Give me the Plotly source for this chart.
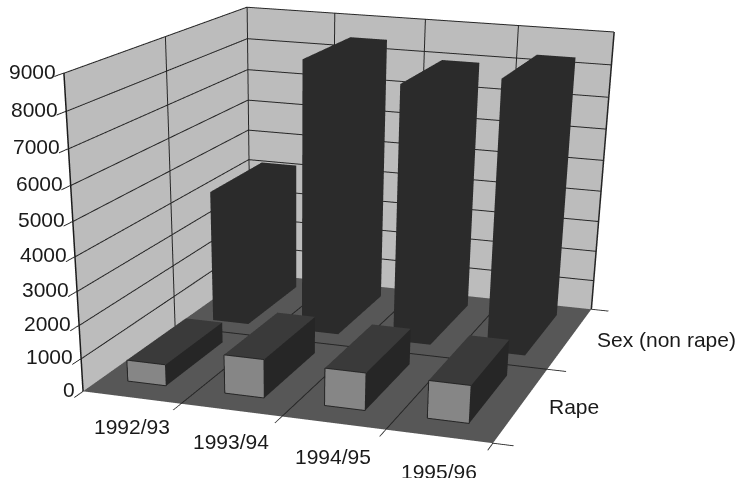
import plotly.graph_objects as go

# Recorded offences per year, one series per row of the depth axis
years = ["1992/93", "1993/94", "1994/95", "1995/96"]
series = ["Rape", "Sex (non rape)"]
rape_values = [650, 1170, 1130, 1130]
sex_values = [4190, 8450, 7950, 8320]
z_ticks = [0, 1000, 2000, 3000, 4000, 5000, 6000, 7000, 8000, 9000]

WIDTH, HEIGHT = 742, 1500
WALL, FLOOR, INK = "#bcbcbc", "#575757", "#262626"
FONT = dict(family="Liberation Sans, Arial", size=21, color="#1a1a1a")

RAPE_X = (0.27, 0.67)
RAPE_Y = (0.195, 0.85)
SEX_X = (0.29, 0.69)
SEX_Y = (1.16, 1.84)

# triangles of a box: bottom, top, front, right, back, left
TRI_I = [0, 0, 4, 4, 0, 0, 1, 1, 2, 2, 3, 3]
TRI_J = [1, 2, 5, 6, 1, 5, 2, 6, 3, 7, 0, 4]
TRI_K = [2, 3, 6, 7, 5, 4, 6, 5, 7, 6, 4, 7]


def bar(pos, span, depth, value, front, side, top):
    x0, x1 = pos + span[0], pos + span[1]
    y0, y1 = depth
    colours = [top] * 4 + [front] * 2 + [side] * 6
    return go.Mesh3d(
        x=[x0, x1, x1, x0, x0, x1, x1, x0],
        y=[y0, y0, y1, y1, y0, y0, y1, y1],
        z=[0, 0, 0, 0, value, value, value, value],
        i=TRI_I, j=TRI_J, k=TRI_K, facecolor=colours, flatshading=True,
        lighting=dict(ambient=1, diffuse=0, specular=0, fresnel=0),
        hoverinfo="skip",
    )


def lines(segments, width, colour=INK):
    xs, ys, zs = [], [], []
    for start, end in segments:
        xs += [start[0], end[0], None]
        ys += [start[1], end[1], None]
        zs += [start[2], end[2], None]
    return go.Scatter3d(x=xs, y=ys, z=zs, mode="lines",
                        line=dict(color=colour, width=width), hoverinfo="skip")


n = len(years)
d = len(series)
top = z_ticks[-1]
eps = 0.004

grid = []
for v in z_ticks[1:]:
    grid.append(((eps, 0, v), (eps, d, v)))
    grid.append(((0, d - eps, v), (n, d - eps, v)))
for y in range(1, d + 1):
    grid.append(((eps, y, 0), (eps, y, top)))
for x in range(1, n + 1):
    grid.append(((x, d - eps, 0), (x, d - eps, top)))
for x in range(1, n):
    grid.append(((x, 0, eps * 20), (x, d, eps * 20)))
grid.append(((0, 1, eps * 20), (n, 1, eps * 20)))

edges = [((0, 0, 0), (0, 0, top)), ((n, d, 0), (n, d, top))]

outlines = []
for i, v in enumerate(rape_values):
    x0, x1 = i + RAPE_X[0], i + RAPE_X[1]
    y = RAPE_Y[0] - eps
    outlines += [((x0, y, 0), (x1, y, 0)), ((x1, y, 0), (x1, y, v)),
                 ((x1, y, v), (x0, y, v)), ((x0, y, v), (x0, y, 0))]

traces = [lines(grid, 2), lines(edges, 3, "#1c1c1c")]
for i, v in enumerate(sex_values):
    traces.append(bar(i, SEX_X, SEX_Y, v, "#2b2b2b", "#2b2b2b", "#2b2b2b"))
for i, v in enumerate(rape_values):
    traces.append(bar(i, RAPE_X, RAPE_Y, v, "#868686", "#262626", "#3a3a3a"))
traces.append(lines(outlines, 2))

fig = go.Figure(traces)

axis = dict(showbackground=True, showgrid=False, zeroline=False, title="",
            showspikes=False, showline=False, ticks="outside",
            tickcolor=INK, ticklen=16, tickwidth=2, showticklabels=False)

labels = []
for i, t in enumerate(years):
    labels.append(dict(x=i + 0.5, y=0, z=0, text=t, showarrow=False,
                       yshift=-29 - 2 * i, font=FONT))
for v in z_ticks:
    labels.append(dict(x=0, y=0, z=v, text=str(v), showarrow=False,
                       xanchor="right", xshift=-6, yshift=2, font=FONT))
for j, s in enumerate(series):
    labels.append(dict(x=n, y=j + 0.5, z=0, text=s, showarrow=False,
                       xanchor="left", xshift=25, yshift=-2, font=FONT))

fig.update_layout(
    width=WIDTH, height=HEIGHT, margin=dict(l=0, r=0, t=0, b=0),
    showlegend=False, paper_bgcolor="white",
    scene=dict(
        domain=dict(x=[0, 1], y=[0, 1]),
        aspectmode="manual",
        aspectratio=dict(x=1, y=1.1221, z=0.7162),
        camera=dict(
            eye=dict(x=1.3560, y=-4.3263, z=1.0499),
            center=dict(x=0.2512, y=-0.6214, z=-1.1624),
            up=dict(x=-2.1068, y=6.6989, z=1),
            projection=dict(type="perspective"),
        ),
        xaxis=dict(axis, range=[0, n], tickvals=list(range(n + 1)), backgroundcolor=WALL),
        yaxis=dict(axis, range=[0, d], tickvals=list(range(d + 1)), backgroundcolor=WALL),
        zaxis=dict(axis, range=[0, top], tickvals=z_ticks, backgroundcolor=FLOOR, ticklen=12,
                   showline=True, linecolor="#1c1c1c", linewidth=2),
        annotations=labels,
    ),
)
fig.write_html("out.html")
